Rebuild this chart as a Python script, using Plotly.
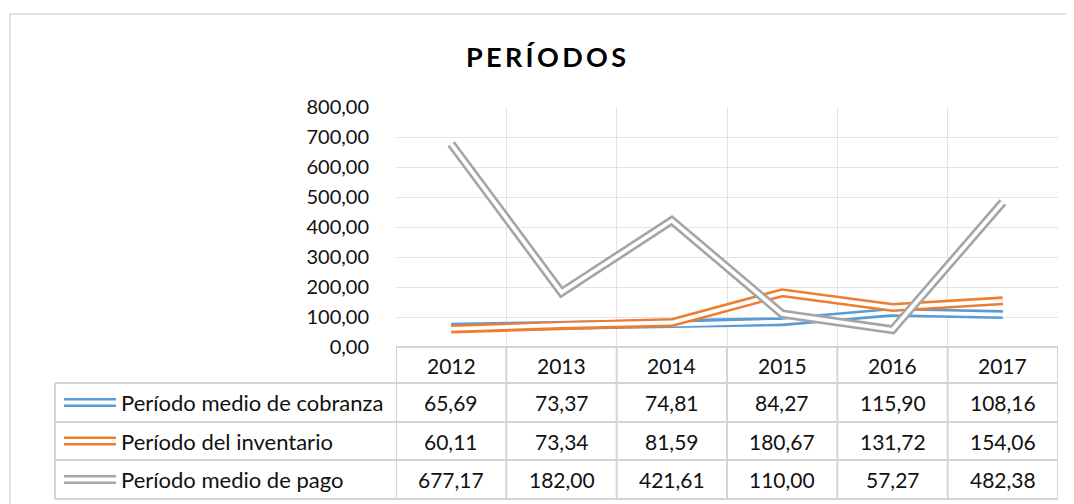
import plotly.graph_objects as go

# ---------------- data ----------------
years = ["2012", "2013", "2014", "2015", "2016", "2017"]
series_names = ["Período medio de cobranza", "Período del inventario", "Período medio de pago"]
cobranza = [65.69, 73.37, 74.81, 84.27, 115.90, 108.16]
inventario = [60.11, 73.34, 81.59, 180.67, 131.72, 154.06]
pago = [677.17, 182.00, 421.61, 110.00, 57.27, 482.38]
series_values = [cobranza, inventario, pago]
colors = ["#5B9BD5", "#ED7D31", "#A5A5A5"]
y_ticks = [0, 100, 200, 300, 400, 500, 600, 700, 800]
title_text = "P\u2009E\u2009R\u2009Í\u2009O\u2009D\u2009O\u2009S"

# ---------------- layout geometry (screen pixels; page body has 8px margin) ----------------
OFF = 8
W, H = 1074 - OFF, 504 - OFF
L, R, T, B = 396, 1058, 107, 347   # plot area in screen pixels
FONT = "Lato"
TXT = "#111111"
GRID = "#e3e3e3"
TBL = "#d4d4d4"
LW, CORE = 9, 3.8


def px(x):
    return (x - L) / (R - L)


def py(y):
    return (B - y) / (B - T)


fig = go.Figure()

# double (compound) lines: coloured thick stroke + white core
for name, vals, col in zip(series_names, series_values, colors):
    fig.add_trace(go.Scatter(x=years, y=vals, mode="lines", name=name,
                             line=dict(color=col, width=LW), showlegend=False))
    fig.add_trace(go.Scatter(x=years, y=vals, mode="lines", hoverinfo="skip",
                             line=dict(color="white", width=CORE), showlegend=False))

shapes = []
annotations = []

# outer chart border
shapes.append(dict(type="rect", xref="paper", yref="paper",
                   x0=px(10), x1=px(1090), y0=py(520), y1=py(14),
                   line=dict(color="#d9d9d9", width=1.5), layer="below"))

# data table borders
row_edges = [347, 383, 422, 460, 499]
shapes.append(dict(type="line", xref="paper", yref="paper", x0=px(L), x1=px(R),
                   y0=py(347), y1=py(347), line=dict(color=TBL, width=2)))
for yy in row_edges[1:]:
    shapes.append(dict(type="line", xref="paper", yref="paper", x0=px(55), x1=px(R),
                       y0=py(yy), y1=py(yy), line=dict(color=TBL, width=2)))
shapes.append(dict(type="line", xref="paper", yref="paper", x0=px(55), x1=px(55),
                   y0=py(383), y1=py(499), line=dict(color=TBL, width=2)))
for i in range(len(years) + 1):
    shapes.append(dict(type="line", xref="x", yref="paper", x0=i - 0.5, x1=i - 0.5,
                       y0=py(347), y1=py(499), line=dict(color=TBL, width=2)))

# header (years)
for i, yr in enumerate(years):
    annotations.append(dict(x=i, y=py(365.5), xref="x", yref="paper", text=yr,
                            showarrow=False, xanchor="center", yanchor="middle",
                            font=dict(family=FONT, size=21, color=TXT)))

row_centers = [402.5, 441, 479.5]
for name, vals, col, rc in zip(series_names, series_values, colors, row_centers):
    # legend key (double line)
    shapes.append(dict(type="line", xref="paper", yref="paper", x0=px(64), x1=px(116),
                       y0=py(rc), y1=py(rc), line=dict(color=col, width=LW)))
    shapes.append(dict(type="line", xref="paper", yref="paper", x0=px(64), x1=px(116),
                       y0=py(rc), y1=py(rc), line=dict(color="white", width=CORE)))
    annotations.append(dict(x=px(119), y=py(rc), xref="paper", yref="paper", text=name,
                            showarrow=False, xanchor="left", yanchor="middle",
                            font=dict(family=FONT, size=22, color=TXT)))
    for i, v in enumerate(vals):
        annotations.append(dict(x=i, y=py(rc), xref="x", yref="paper",
                                text=f"{v:.2f}".replace(".", ","),
                                showarrow=False, xanchor="center", yanchor="middle",
                                font=dict(family=FONT, size=21, color=TXT)))

fig.update_layout(
    width=W, height=H,
    margin=dict(l=L - OFF, r=W + OFF - R, t=T - OFF, b=H + OFF - B, pad=0),
    paper_bgcolor="white", plot_bgcolor="white",
    separators=",.",
    title=dict(text=f"<b>{title_text}</b>", x=(546 - OFF) / W, xref="container",
               xanchor="center", y=1 - (58 - OFF) / H, yref="container", yanchor="middle",
               font=dict(family=FONT, size=27, color="#000000")),
    xaxis=dict(type="category", tickson="boundaries", showgrid=True, gridcolor=GRID,
               gridwidth=1, showticklabels=False, ticks="", zeroline=False,
               showline=False, range=[-0.5, len(years) - 0.5]),
    yaxis=dict(range=[0, 800], tickvals=y_ticks, tickformat=".2f", showgrid=True,
               gridcolor=GRID, gridwidth=1, zeroline=False, showline=False,
               ticks="outside", ticklen=0, ticklabelstandoff=22,
               tickfont=dict(family=FONT, size=20, color=TXT)),
    shapes=shapes, annotations=annotations,
    showlegend=False,
)

fig.write_html("out.html")
